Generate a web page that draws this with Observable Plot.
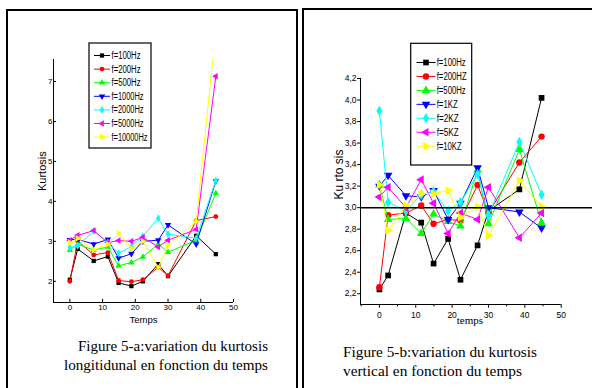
<!DOCTYPE html>
<html><head><meta charset="utf-8">
<script src="https://cdn.jsdelivr.net/npm/d3@7"></script>
<script src="https://cdn.jsdelivr.net/npm/@observablehq/plot@0.6"></script>
<style>
html,body{margin:0;padding:0;background:#fff;}
#page{position:relative;width:592px;height:388px;overflow:hidden;background:#fff;}
.box{position:absolute;border:2.5px solid #000;box-sizing:border-box;}
.layer{position:absolute;left:0;top:0;}
</style></head><body><div id="page"></div>
<script>
// ---------- data: chart a (longitudinal) ----------
const timesA = [0, 2.4, 7.3, 11.6, 14.9, 18.8, 22.3, 27, 30, 38.6, 44.6];
const seriesA = ["f=100Hz", "f=200Hz", "f=500Hz", "f=1000Hz", "f=2000Hz", "f=5000Hz", "f=10000Hz"];
const k100A   = [2.04, 2.81, 2.51, 2.62, 1.96, 1.88, 2.00, 2.43, 2.13, 3.14, 2.68];
const k200A   = [2.00, 3.01, 2.66, 2.72, 2.02, 1.99, 2.04, 2.35, 2.14, 3.52, 3.62];
const k500A   = [2.78, 2.93, 2.78, 2.86, 2.39, 2.47, 2.61, 2.93, 2.73, 3.03, 4.20];
const k1000A  = [3.04, 3.05, 2.93, 3.05, 2.58, 2.69, 3.00, 3.03, 3.41, 2.93, 4.51];
const k2000A  = [2.84, 2.89, 3.26, 2.97, 2.70, 2.87, 3.13, 3.58, 3.18, 3.08, 4.52];
const k5000A  = [3.03, 3.15, 3.27, 2.97, 3.02, 3.00, 3.10, 2.86, 3.03, 3.30, 7.13];
const k10000A = [2.97, 3.08, 2.79, 2.93, 3.20, 2.82, 3.00, 2.35, 2.90, 3.50, 8.30];
const xTicksA = [0, 10, 20, 30, 40, 50];
const yTicksA = [2, 3, 4, 5, 6, 7];

// ---------- data: chart b (vertical) ----------
const timesB = [0, 2.4, 7.3, 11.5, 14.9, 18.9, 22.3, 27, 30, 38.5, 44.6];
const seriesB = ["f=100Hz", "f=200HZ", "f=500Hz", "f=1KZ", "f=2KZ", "f=5KZ", "f=10KZ"];
const k100B  = [2.24, 2.37, 2.95, 2.86, 2.48, 2.71, 2.33, 2.65, 2.97, 3.17, 4.02];
const k200B  = [2.26, 2.93, 2.95, 3.02, 2.85, 2.89, 2.88, 3.21, 2.95, 3.42, 3.66];
const k500B  = [3.21, 2.89, 2.90, 2.76, 2.94, 2.87, 2.83, 3.35, 2.85, 3.54, 2.86];
const k1KB   = [3.20, 3.30, 3.11, 3.10, 3.16, 2.89, 3.04, 3.37, 3.00, 2.96, 2.81];
const k2KB   = [3.90, 3.05, 2.97, 3.12, 3.15, 2.97, 3.05, 3.31, 2.93, 3.61, 3.12];
const k5KB   = [3.10, 3.19, 3.00, 3.26, 3.04, 2.76, 2.95, 2.89, 3.19, 2.72, 2.95];
const k10KB  = [3.21, 2.79, 3.02, 3.13, 3.13, 3.16, 2.91, 3.01, 2.74, 3.25, 3.01];
const xTicksB = [0, 10, 20, 30, 40, 50];
const xMinorB = [-5, 5, 15, 25, 35, 45];
const yTicksB = [2.2, 2.4, 2.6, 2.8, 3.0, 3.2, 3.4, 3.6, 3.8, 4.0, 4.2];
const refLineB = [3.0];

const captionA = ["Figure 5-a:variation du kurtosis", "longitidunal en fonction du temps"];
const captionB = ["Figure 5-b:variation du kurtosis", "vertical en fonction du temps"];

// ---------- styling ----------
const colors = ["#000000", "#ff0000", "#00ff00", "#0000ff", "#00ffff", "#ff00ff", "#ffff00"];
const sqrt3 = Math.sqrt(3);
function tri(angle) {
  const c = Math.cos(angle * Math.PI / 180), s = Math.sin(angle * Math.PI / 180);
  return {draw(ctx, size) {
    const y = -Math.sqrt(size / (sqrt3 * 3));
    const pts = [[0, y * 2], [-sqrt3 * y, -y], [sqrt3 * y, -y]];
    pts.forEach(([px, py], i) => {
      const X = px * c - py * s, Y = px * s + py * c;
      i ? ctx.lineTo(X, Y) : ctx.moveTo(X, Y);
    });
    ctx.closePath();
  }};
}
const symbols = [d3.symbolSquare, d3.symbolCircle, tri(0), tri(180), d3.symbolDiamond, tri(-90), tri(90)];
const narrow = "'Liberation Sans Narrow', 'Arial Narrow', 'Liberation Sans', Arial, sans-serif";

function seriesMarks(times, vals, r) {
  return vals.flatMap((v, i) => {
    const data = times.map((t, j) => ({t, k: v[j]}));
    return [
      Plot.line(data, {x: "t", y: "k", stroke: colors[i], strokeWidth: 1, clip: true}),
      Plot.dot(data, {x: "t", y: "k", fill: colors[i], symbol: symbols[i], r, clip: true})
    ];
  });
}

const page = document.getElementById("page");
function addBox(l, t, w, h) {
  const d = document.createElement("div");
  d.className = "box";
  Object.assign(d.style, {left: l + "px", top: t + "px", width: w + "px", height: h + "px"});
  page.appendChild(d);
}
addBox(6, 9, 292, 420);
addBox(302, 8, 320, 420);

// ---------- chart a ----------
const yA0 = 1.47, yA1 = 7.55, xA0 = -5, xA1 = 50;
const plotA = Plot.plot({
  width: 300, height: 340,
  marginLeft: 53, marginRight: 67, marginTop: 59, marginBottom: 38,
  x: {domain: [xA0, xA1], axis: null},
  y: {domain: [yA0, yA1], axis: null},
  style: {background: "transparent", overflow: "visible", fontFamily: narrow, fontSize: "8px", color: "#000"},
  marks: [
    ...seriesMarks(timesA, [k100A, k200A, k500A, k1000A, k2000A, k5000A, k10000A], 2.4),
    Plot.ruleX([xA0], {y1: yA0, y2: yA1, stroke: "#000", strokeWidth: 1}),
    Plot.ruleY([yA0], {x1: xA0, x2: xA1, stroke: "#000", strokeWidth: 1}),
    Plot.ruleX(xTicksA, {x: d => d, y1: yA0, y2: yA0 + 0.08, stroke: "#000"}),
    Plot.ruleY(yTicksA, {y: d => d, x1: xA0, x2: xA0 + 0.9, stroke: "#000"}),
    Plot.text(xTicksA, {x: d => d, y: yA0, dy: 5, text: d => String(d), fill: "#000", fontSize: 8, letterSpacing: -0.6}),
    Plot.text(yTicksA, {x: xA0, y: d => d, dx: -1, textAnchor: "end", text: d => String(d), fill: "#000", fontSize: 8}),
    Plot.text(["Kurtosis"], {frameAnchor: "left", dx: -11, dy: 10, rotate: -90, fontSize: 11, fill: "#000", fontFamily: "'Liberation Sans', Arial, sans-serif"}),
    Plot.text(["Temps"], {frameAnchor: "bottom", dy: 20, fontSize: 9.5, letterSpacing: -1, fill: "#000"})
  ]
});
plotA.classList.add("layer");
page.appendChild(plotA);

// ---------- chart b ----------
const yB0 = 2.1, yB1 = 4.2, xB0 = -5.2, xB1 = 50;
const plotB = Plot.plot({
  width: 292, height: 340,
  marginLeft: 60, marginRight: 31.3, marginTop: 78, marginBottom: 36,
  x: {domain: [xB0, xB1], axis: null},
  y: {domain: [yB0, yB1], axis: null},
  style: {background: "transparent", overflow: "visible", fontFamily: narrow, fontSize: "8px", color: "#000"},
  marks: [
    ...seriesMarks(timesB, [k100B, k200B, k500B, k1KB, k2KB, k5KB, k10KB], 3.2),
    Plot.ruleY(refLineB, {y: d => d, x1: xB0, x2: 59, stroke: "#000", strokeWidth: 1.5}),
    Plot.ruleX([xB0], {y1: yB0, y2: yB1, stroke: "#000", strokeWidth: 1}),
    Plot.ruleY([yB0], {x1: xB0, x2: xB1, stroke: "#000", strokeWidth: 1}),
    Plot.ruleX(xTicksB, {x: d => d, y1: yB0, y2: yB0 - 0.035, stroke: "#000", clip: false}),
    Plot.ruleX(xMinorB, {x: d => d, y1: yB0, y2: yB0 - 0.022, stroke: "#000"}),
    Plot.ruleY(yTicksB, {y: d => d, x1: xB0, x2: xB0 - 0.8, stroke: "#000"}),
    Plot.text(xTicksB, {x: d => d, y: yB0, dy: 11, text: d => String(d), fill: "#000", fontSize: 8.5}),
    Plot.text(yTicksB, {x: xB0, y: d => d, dx: -4, textAnchor: "end", text: d => d.toFixed(1).replace(".", ","), fill: "#000", fontSize: 8.5, letterSpacing: -0.4}),
    Plot.text(["Ku rto sis"], {frameAnchor: "left", dx: -21, dy: 8, rotate: -90, fontSize: 12, fill: "#000", fontFamily: "'Liberation Sans', Arial, sans-serif"}),
    Plot.text(["temps"], {frameAnchor: "bottom", dx: 9, dy: 19, fontSize: 11, fill: "#000", fontFamily: "'Liberation Serif', 'Times New Roman', serif"})
  ]
});
plotB.classList.add("layer");
plotB.style.left = "300px";
page.appendChild(plotB);

// ---------- legends & captions overlay ----------
const ov = d3.select(page).append("svg").attr("class", "layer")
  .attr("width", 592).attr("height", 388).style("overflow", "visible");

function legend(g, labels, o) {
  g.append("rect").attr("x", o.x).attr("y", o.y).attr("width", o.w).attr("height", o.h)
    .attr("fill", "#fff").attr("stroke", "#000").attr("stroke-width", 1.2);
  labels.forEach((lab, i) => {
    const y = o.row0 + i * o.step;
    g.append("line").attr("x1", o.lx0).attr("x2", o.lx1).attr("y1", y).attr("y2", y)
      .attr("stroke", colors[i]).attr("stroke-width", 1);
    g.append("path").attr("transform", `translate(${(o.lx0 + o.lx1) / 2},${y})`)
      .attr("d", d3.symbol().type(symbols[i]).size(Math.PI * o.r * o.r)()).attr("fill", colors[i]);
    g.append("text").attr("x", o.tx).attr("y", y).attr("dy", "0.35em")
      .attr("font-family", narrow).attr("font-size", o.fs)
      .attr("textLength", o.tl[i]).attr("lengthAdjust", "spacingAndGlyphs")
      .text(lab);
  });
}
legend(ov.append("g"), seriesA, {x: 89, y: 43, w: 62, h: 105, row0: 55.5, step: 13.6, lx0: 94, lx1: 110, tx: 111.5, r: 2.4, fs: 10,
  tl: [29, 29, 29, 32, 32, 32, 36]});
legend(ov.append("g"), seriesB, {x: 410.7, y: 43.3, w: 61, h: 121.7, row0: 62.5, step: 13.95, lx0: 416.5, lx1: 435.5, tx: 436.7, r: 3.2, fs: 10,
  tl: [29, 30, 29, 21, 22, 22, 25]});

function caption(lines, pos) {
  lines.forEach((t, i) => {
    ov.append("text").attr("x", pos[i].x).attr("y", pos[i].y)
      .attr("font-family", "'Liberation Serif', 'Times New Roman', serif").attr("font-size", 15)
      .attr("textLength", pos[i].w).attr("lengthAdjust", "spacingAndGlyphs").text(t);
  });
}
caption(captionA, [{x: 78, y: 351, w: 190}, {x: 64, y: 369.5, w: 204}]);
caption(captionB, [{x: 343, y: 357, w: 194}, {x: 343, y: 375.5, w: 179}]);
</script></body></html>
